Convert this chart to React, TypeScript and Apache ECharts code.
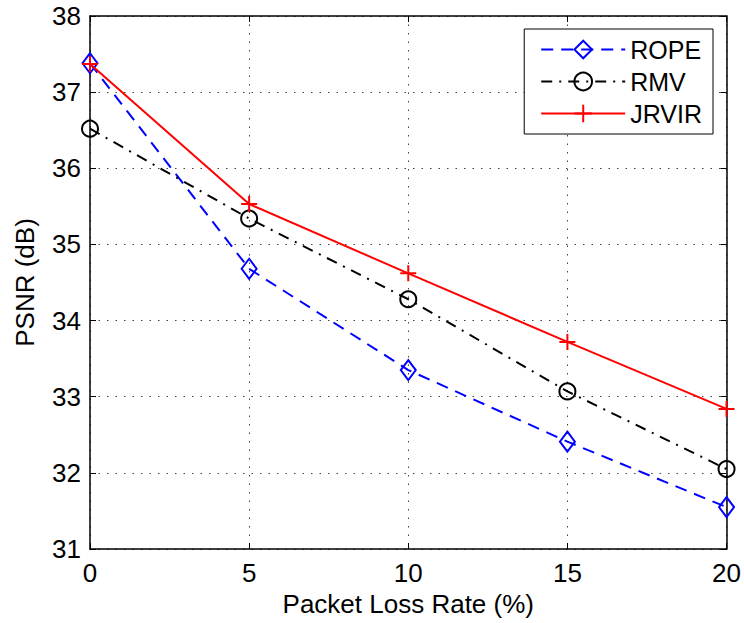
import React, { useEffect, useRef } from "react";
import * as echarts from "echarts";

const lossRates = [0, 5, 10, 15, 20];
const ropePsnr = [37.38, 34.68, 33.35, 32.41, 31.55];
const rmvPsnr = [36.52, 35.34, 34.28, 33.07, 32.05];
const jrvirPsnr = [37.37, 35.53, 34.62, 33.72, 32.84];
const seriesNames = ["ROPE", "RMV", "JRVIR"];

const FONT = "'Liberation Sans', Arial, Helvetica, sans-serif";
const FS = 26;
const LFS = 25;

const pairs = (ys: number[]) => lossRates.map((x, i) => [x, ys[i]]);

export default function App() {
  const ref = useRef<HTMLDivElement>(null);
  useEffect(() => {
    if (!ref.current) return;
    document.body.style.margin = "0";
    document.body.style.overflow = "hidden";
    const chart = echarts.init(ref.current, undefined, { renderer: "svg" });
    const tickCommon = { show: true, inside: true, length: 6, lineStyle: { color: "#000", width: 1 } };
    const axisLineCommon = { show: true, onZero: false, lineStyle: { color: "#000", width: 1.5 } };
    const gridLine = { show: true, lineStyle: { color: "#444", width: 1, type: [1.5, 7] as any } };
    chart.setOption({
      animation: false,
      backgroundColor: "#fff",
      textStyle: { fontFamily: FONT },
      grid: { left: 90, right: 17, top: 16, bottom: 74, containLabel: false },
      legend: {
        orient: "vertical",
        right: 31,
        top: 29,
        data: seriesNames,
        backgroundColor: "#fff",
        borderColor: "#000",
        borderWidth: 1,
        padding: [8, 11, 8, 16],
        itemGap: 7,
        itemWidth: 84,
        itemHeight: 22,
        textStyle: { fontSize: LFS, color: "#000", fontFamily: FONT },
      },
      xAxis: [
        {
          type: "value",
          min: 0,
          max: 20,
          interval: 5,
          name: "Packet Loss Rate (%)",
          nameLocation: "middle",
          nameGap: 37,
          nameTextStyle: { fontSize: FS, color: "#000", fontFamily: FONT },
          axisLine: axisLineCommon,
          axisTick: tickCommon,
          axisLabel: { fontSize: FS, color: "#000", margin: 11, showMinLabel: true, showMaxLabel: true, fontFamily: FONT },
          splitLine: gridLine,
        },
        {
          type: "value",
          position: "top",
          min: 0,
          max: 20,
          interval: 5,
          axisLine: axisLineCommon,
          axisTick: tickCommon,
          axisLabel: { show: false },
          splitLine: { show: false },
        },
      ],
      yAxis: [
        {
          type: "value",
          min: 31,
          max: 38,
          interval: 1,
          name: "PSNR (dB)",
          nameLocation: "middle",
          nameGap: 52,
          nameTextStyle: { fontSize: FS, color: "#000", fontFamily: FONT },
          axisLine: axisLineCommon,
          axisTick: tickCommon,
          axisLabel: { fontSize: FS, color: "#000", margin: 9, showMinLabel: true, showMaxLabel: true, fontFamily: FONT },
          splitLine: gridLine,
        },
        {
          type: "value",
          position: "right",
          min: 31,
          max: 38,
          interval: 1,
          axisLine: axisLineCommon,
          axisTick: tickCommon,
          axisLabel: { show: false },
          splitLine: { show: false },
        },
      ],
      series: [
        {
          name: seriesNames[0],
          type: "line",
          data: pairs(ropePsnr),
          symbol: "diamond",
          symbolSize: [15, 20],
          lineStyle: { color: "#0000ff", width: 2, type: [12, 8] as any },
          itemStyle: { color: "none", borderColor: "#0000ff", borderWidth: 2 },
          clip: false,
          z: 2,
        },
        {
          name: seriesNames[1],
          type: "line",
          data: pairs(rmvPsnr),
          symbol: "circle",
          symbolSize: 16,
          lineStyle: { color: "#000", width: 2, type: [11, 7, 2, 7] as any },
          itemStyle: { color: "none", borderColor: "#000", borderWidth: 2 },
          clip: false,
          z: 3,
        },
        {
          name: seriesNames[2],
          type: "line",
          data: pairs(jrvirPsnr),
          symbol: "path://M0,10 L20,10 M10,0 L10,20",
          symbolSize: 16,
          lineStyle: { color: "#ff0000", width: 2 },
          itemStyle: { color: "none", borderColor: "#ff0000", borderWidth: 2 },
          clip: false,
          z: 4,
        },
      ],
    });
    return () => chart.dispose();
  }, []);
  return <div ref={ref} style={{ position: "fixed", left: 0, top: 0, width: 744, height: 623 }} />;
}
